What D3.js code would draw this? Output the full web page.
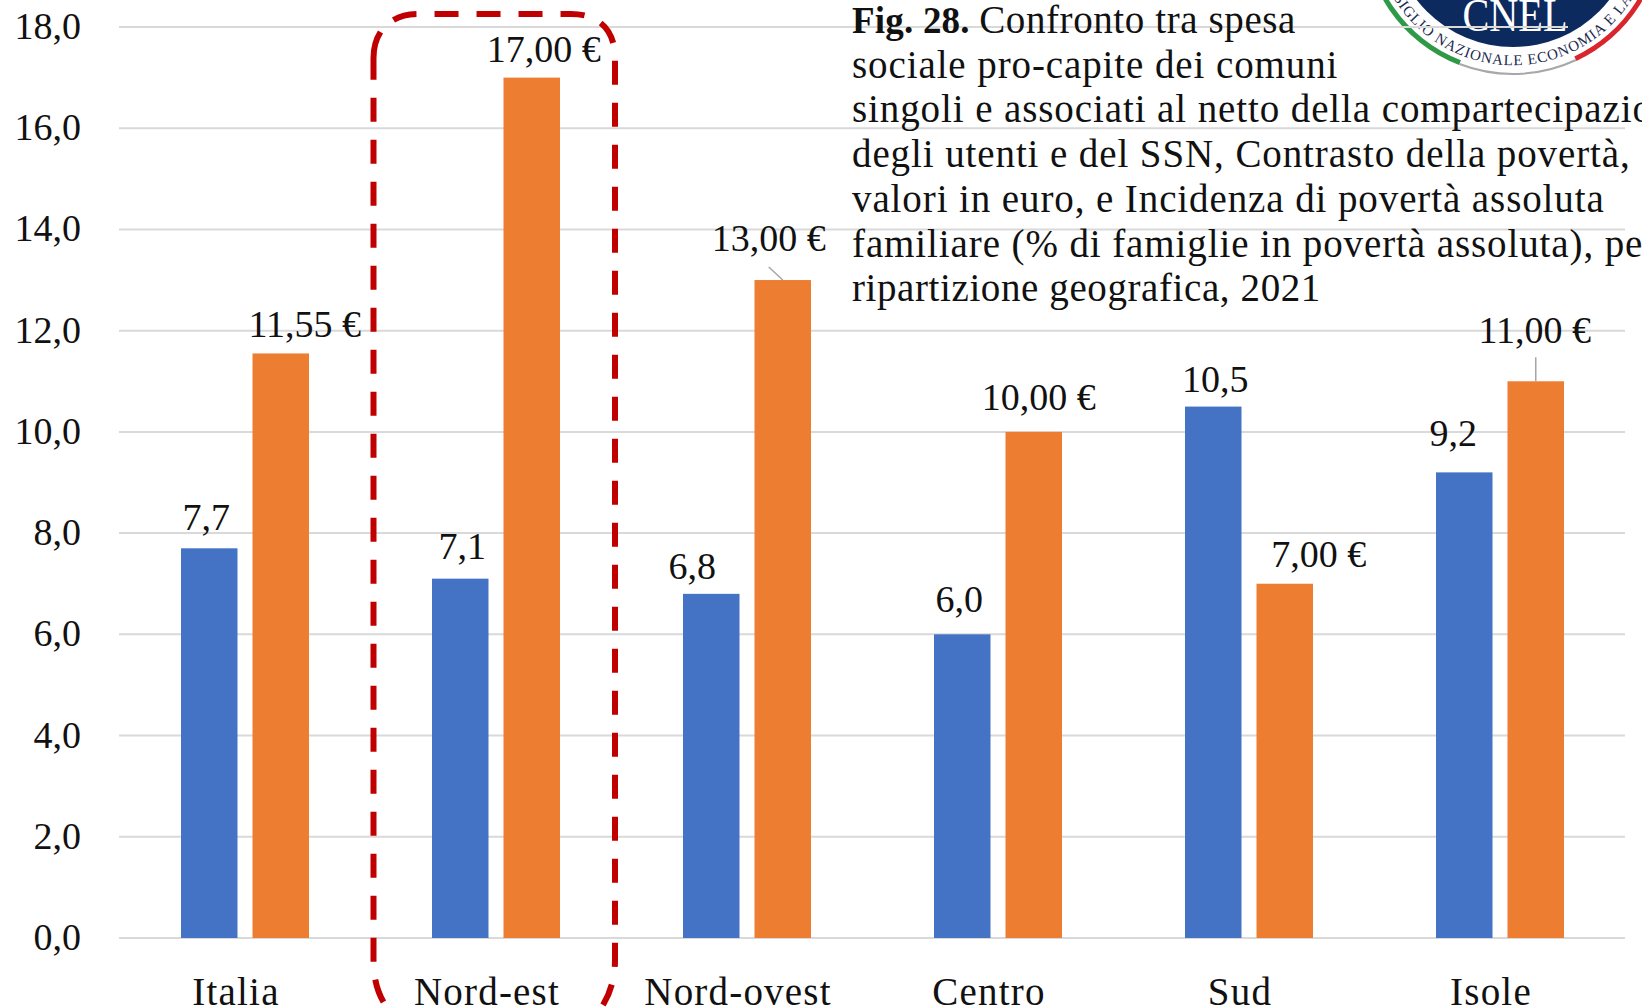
<!DOCTYPE html>
<html><head><meta charset="utf-8">
<script src="https://cdn.jsdelivr.net/npm/d3@7"></script>
<style>html,body{margin:0;padding:0;background:#fff;overflow:hidden}svg{display:block}text{font-family:"Liberation Serif",serif;fill:#111}</style>
</head><body><svg id="c" width="1642" height="1008"></svg>
<script>
const categories=["Italia","Nord-est","Nord-ovest","Centro","Sud","Isole"];
const povertyValues=[7.7,7.1,6.8,6.0,10.5,9.2];
const spendValues=[11.55,17.00,13.00,10.00,7.00,11.00];
const yTicks=[0,2,4,6,8,10,12,14,16,18];
const titleLines=["Confronto tra spesa","sociale pro-capite dei comuni","singoli e associati al netto della compartecipazione","degli utenti e del SSN, Contrasto della povertà,","valori in euro, e Incidenza di povertà assoluta","familiare (% di famiglie in povertà assoluta), per","ripartizione geografica, 2021"];
const svg=d3.select("#c");
const x=d3.scaleBand().domain(categories).range([119.5,1625.5]);
const y=d3.scaleLinear().domain([0,18]).range([938,27]);
const dec=(v,n)=>v.toFixed(n).replace(".",",");
// logo
const logo=svg.append("g");
const lc=[1513,-75];
logo.append("circle").attr("cx",lc[0]).attr("cy",lc[1]).attr("r",122).attr("fill","#0d2a5e");
const arc=(a0,a1,r,w)=>d3.arc()({innerRadius:r,outerRadius:r+w,startAngle:a0,endAngle:a1});
logo.append("path").attr("transform",`translate(${lc})`).attr("d",arc(Math.PI*1.117,Math.PI*1.5,145,5)).attr("fill","#2e9a48");
logo.append("path").attr("transform",`translate(${lc})`).attr("d",arc(Math.PI*0.5,Math.PI*0.861,145,5)).attr("fill","#d9262c");
logo.append("path").attr("transform",`translate(${lc})`).attr("d",arc(Math.PI*0.861,Math.PI*1.117,148,2)).attr("fill","#a8a8a8");
logo.append("text").attr("x",1515).attr("y",31).attr("text-anchor","middle").attr("font-size",46).attr("textLength",105).attr("lengthAdjust","spacingAndGlyphs").style("fill","#fff").text("CNEL");
const defs=svg.append("defs");
defs.append("path").attr("id","lp").attr("d",`M${lc[0]-136.7},${lc[1]-30} A140,140 0 1 0 ${lc[0]+136.7},${lc[1]-30}`);
logo.append("text").attr("font-size",15).attr("letter-spacing",0.9).style("fill","#1c2a50").append("textPath").attr("href","#lp").attr("startOffset","51%").attr("text-anchor","middle").text("CONSIGLIO NAZIONALE ECONOMIA E LAVORO");
// grid
svg.append("g").selectAll("line").data(yTicks).join("line")
 .attr("x1",119).attr("x2",d=>d===18?1568:1625).attr("y1",d=>y(d)).attr("y2",d=>y(d)).attr("stroke","#d9d9d9").attr("stroke-width",2);
// y labels
svg.append("g").selectAll("text").data(yTicks).join("text").attr("x",81).attr("y",d=>y(d)+12).attr("text-anchor","end").attr("font-size",38).text(d=>dec(d,1));
// x labels
svg.append("g").selectAll("text").data(categories).join("text").attr("x",d=>x(d)+x.bandwidth()/2-9).attr("y",1004.5).attr("text-anchor","middle").attr("font-size",39).attr("letter-spacing",1.2).text(d=>d);
// bars
const bw=56.5, gap=15;
const cx=d=>x(d)+x.bandwidth()/2;
svg.append("g").selectAll("rect").data(categories).join("rect").attr("x",d=>cx(d)-gap/2-bw).attr("width",bw).attr("y",(d,i)=>y(povertyValues[i])).attr("height",(d,i)=>y(0)-y(povertyValues[i])).attr("fill","#4472c4");
svg.append("g").selectAll("rect").data(categories).join("rect").attr("x",d=>cx(d)+gap/2).attr("width",bw).attr("y",(d,i)=>y(spendValues[i])).attr("height",(d,i)=>y(0)-y(spendValues[i])).attr("fill","#ed7d31");
// labels
const blueOff=[[-3,-18],[2,-20],[-19,-15],[-3,-22],[2,-15],[-11,-26]];
const orangeOff=[[24,-16],[12,-16],[-14,-29],[5,-22],[34,-17],[-1,-38]];
svg.append("g").selectAll("text").data(categories).join("text").attr("x",(d,i)=>cx(d)-gap/2-bw/2+blueOff[i][0]).attr("y",(d,i)=>y(povertyValues[i])+blueOff[i][1]).attr("text-anchor","middle").attr("font-size",38).text((d,i)=>dec(povertyValues[i],1));
svg.append("g").selectAll("text").data(categories).join("text").attr("x",(d,i)=>cx(d)+gap/2+bw/2+orangeOff[i][0]).attr("y",(d,i)=>y(spendValues[i])+orangeOff[i][1]).attr("text-anchor","middle").attr("font-size",38).text((d,i)=>dec(spendValues[i],2)+" €");
// leader lines
const leaders=[[2,-14,-13],[5,0,-24]];
svg.append("g").selectAll("line").data(leaders).join("line")
 .attr("x1",l=>cx(categories[l[0]])+gap/2+bw/2+l[1]).attr("y1",l=>y(spendValues[l[0]])+l[2])
 .attr("x2",l=>cx(categories[l[0]])+gap/2+bw/2).attr("y2",l=>y(spendValues[l[0]]))
 .attr("stroke","#a6a6a6").attr("stroke-width",1.5);
// dashed highlight box around Nord-est
const L=x("Nord-est")+3, Rr=L+241.5, T=14;
const box=svg.append("g").attr("fill","none").attr("stroke","#c00000").attr("stroke-width",6);
box.append("path").attr("stroke-dasharray","24 18").attr("d",`M${L+10},1002 Q${L},985 ${L},960 L${L},78`);
box.append("path").attr("d",`M${L},78 L${L},58 Q${L},43 ${L+7},32`);
box.append("path").attr("stroke-dasharray","24 18").attr("d",`M${L+20},20 Q${L+30},${T} ${L+44},${T} L${Rr-44},${T} C${Rr-16},${T} ${Rr},${T+16} ${Rr},${T+44} L${Rr},960 Q${Rr},985 ${Rr-12},1005`);
// title
titleLines.forEach((t,i)=>{
  const ts=svg.append("text").attr("x",852).attr("y",33+i*44.7).attr("font-size",39).attr("letter-spacing",i===6||i===0?0.6:0.9);
  if(i===0){ts.append("tspan").attr("font-weight","bold").attr("font-size",37).attr("letter-spacing",0.2).text("Fig. 28. ");}
  ts.append("tspan").text(t);
});
</script></body></html>
